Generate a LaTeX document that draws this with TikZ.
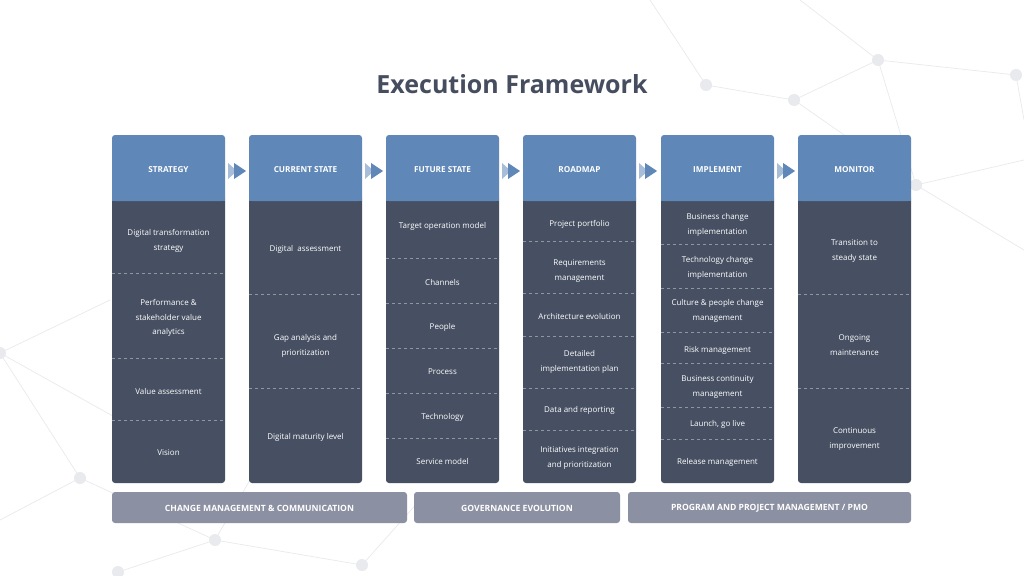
\documentclass[tikz,border=0pt]{standalone}
\usepackage{fontspec}
\setmainfont{Open Sans}
\begin{document}
\definecolor{hdr}{HTML}{5F88B8}
\definecolor{bod}{HTML}{465062}
\definecolor{bar}{HTML}{8B90A2}
\definecolor{ttl}{HTML}{454D5E}
\definecolor{net}{HTML}{E9EAED}
\begin{tikzpicture}[x=1pt,y=-1pt,
  hd/.style={font=\bfseries\fontsize{8.2}{9}\selectfont,text=white},
  it/.style={font=\fontsize{8}{14.5}\selectfont,text=white,align=center},
  br/.style={font=\bfseries\fontsize{8.6}{9}\selectfont,text=white},
  dsh/.style={draw=white!40!bod,dashed,line width=0.6pt},
  dot/.style={circle,fill=net,inner sep=0pt,minimum size=12pt}]
\useasboundingbox (0,0) rectangle (1024,575);
\fill[white] (0,0) rectangle (1024,575);
% network background
\foreach \a/\b/\c/\d in {706/85/794/100, 794/100/878/60, 878/60/1016/75, 878/60/916/185, 794/100/916/185, 706/85/650/0, 1016/75/1024/120, 916/185/1024/250, 878/60/800/0, 916/185/1024/160, 0/353/80/478, 80/478/215/540, 215/540/362/565, 215/540/118/572, 0/353/110/300, 80/478/0/520, 362/565/420/500, 0/353/120/420, 215/540/250/480}
  \draw[net,line width=0.7pt] (\a,\b) -- (\c,\d);
\foreach \p/\q [count=\i] in {706/85,794/100,878/60,916/185,1016/75,0/353,80/478,215/540,362/565,118/572}
  \node[dot] (n\i) at (\p,\q) {};
\node[font=\bfseries\fontsize{25}{30}\selectfont,text=ttl] (title) at (512,84) {Execution Framework};
% columns
\foreach \x/\h [count=\i] in {112/STRATEGY,249/CURRENT STATE,386/FUTURE STATE,523/ROADMAP,661/IMPLEMENT,798/MONITOR}{
  \fill[bod,rounded corners=3pt] (\x,195) rectangle ++(113,288);
  \fill[hdr,rounded corners=3pt] (\x,135) rectangle ++(113,66);
  \fill[hdr] (\x,192) rectangle ++(113,9);
  \node[hd] (h\i) at (\x+56.5,170) {\h};
}
\foreach \x in {225,362,499,636,774}{
  \fill[hdr!55] (\x+3,163) -- (\x+12,171) -- (\x+3,179) -- cycle;
  \fill[hdr] (\x+9,163) -- (\x+21,171) -- (\x+9,179) -- cycle;
}
% separators
\foreach \y in {273,358,420} \draw[dsh] (112,\y) -- (225,\y);
\foreach \y in {294,388} \draw[dsh] (249,\y) -- (362,\y);
\foreach \y in {258,303,348,393,438} \draw[dsh] (386,\y) -- (499,\y);
\foreach \y in {241,293,336,388,430} \draw[dsh] (523,\y) -- (636,\y);
\foreach \y in {244,288,332,363,407,439} \draw[dsh] (661,\y) -- (774,\y);
\foreach \y in {294,388} \draw[dsh] (798,\y) -- (911,\y);
% items
\node[it] (a1) at (168.5,241) {Digital transformation\\strategy};
\node[it] (a2) at (168.5,318) {Performance \&\\stakeholder value\\analytics};
\node[it] (a3) at (168.5,391) {Value assessment};
\node[it] (a4) at (168.5,453) {Vision};
\node[it] (b1) at (305.5,249) {Digital\ \ assessment};
\node[it] (b2) at (305.5,346) {Gap analysis and\\prioritization};
\node[it] (b3) at (305.5,437) {Digital maturity level};
\node[it] (c1) at (442.5,226) {Target operation model};
\node[it] (c2) at (442.5,282) {Channels};
\node[it] (c3) at (442.5,327) {People};
\node[it] (c4) at (442.5,372) {Process};
\node[it] (c5) at (442.5,417) {Technology};
\node[it] (c6) at (442.5,461) {Service model};
\node[it] (d1) at (579.5,224) {Project portfolio};
\node[it] (d2) at (579.5,271) {Requirements\\management};
\node[it] (d3) at (579.5,316) {Architecture evolution};
\node[it] (d4) at (579.5,362) {Detailed\\implementation plan};
\node[it] (d5) at (579.5,410) {Data and reporting};
\node[it] (d6) at (579.5,458) {Initiatives integration\\and prioritization};
\node[it] (e1) at (717.5,225) {Business change\\implementation};
\node[it] (e2) at (717.5,268) {Technology change\\implementation};
\node[it] (e3) at (717.5,311) {Culture \& people change\\management};
\node[it] (e4) at (717.5,350) {Risk management};
\node[it] (e5) at (717.5,387) {Business continuity\\management};
\node[it] (e6) at (717.5,424) {Launch, go live};
\node[it] (e7) at (717.5,462) {Release management};
\node[it] (f1) at (854.5,251) {Transition to\\steady state};
\node[it] (f2) at (854.5,345) {Ongoing\\maintenance};
\node[it] (f3) at (854.5,439) {Continuous\\improvement};
% bars
\fill[bar,rounded corners=3pt] (112,492) rectangle (407,523);
\fill[bar,rounded corners=3pt] (414,492) rectangle (620,523);
\fill[bar,rounded corners=3pt] (628,492) rectangle (911,523);
\node[br] (g1) at (259.5,508) {CHANGE MANAGEMENT \& COMMUNICATION};
\node[br] (g2) at (517,508) {GOVERNANCE EVOLUTION};
\node[br] (g3) at (769.5,508) {PROGRAM AND PROJECT MANAGEMENT / PMO};
\end{tikzpicture}
\end{document}
